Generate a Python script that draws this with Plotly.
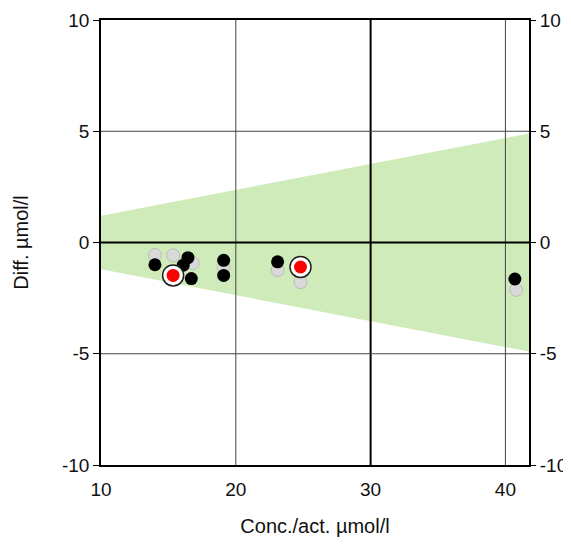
import plotly.graph_objects as go

# ---- data ----
band_x = [10, 41.75]
band_upper = [1.2, 4.9]
band_lower = [-1.2, -4.9]

gray_x = [14.0, 15.35, 16.8, 19.1, 23.1, 24.8, 40.8]
gray_y = [-0.56, -0.58, -0.93, -1.1, -1.24, -1.78, -2.13]

black_x = [14.0, 16.45, 16.1, 16.7, 19.1, 19.1, 23.1, 40.7]
black_y = [-1.0, -0.68, -1.02, -1.62, -0.8, -1.48, -0.87, -1.64]

red_x = [15.35, 24.8]
red_y = [-1.48, -1.1]

x_ticks = [10, 20, 30, 40]
x_tick_labels = ["10", "20", "30", "40"]
y_ticks = [-10, -5, 0, 5, 10]
y_tick_labels = ["-10", "-5", "0", "5", "10"]
x_range = [10, 41.75]
y_range = [-10, 10]
thin_grid_x = [20, 40]
thick_grid_x = [30]
thin_grid_y = [-5, 5]
thick_grid_y = [0]

FONT = "Liberation Sans, Arial, sans-serif"

fig = go.Figure()

# tolerance band
fig.add_trace(go.Scatter(
    x=band_x + band_x[::-1], y=band_upper + band_lower[::-1],
    fill="toself", fillcolor="#cfebb9", mode="none",
    hoverinfo="skip", showlegend=False))

# grid lines (drawn above band, below markers)
for gx in thin_grid_x:
    fig.add_trace(go.Scatter(x=[gx, gx], y=y_range, mode="lines",
                             line=dict(color="#444444", width=1),
                             hoverinfo="skip", showlegend=False))
for gx in thick_grid_x:
    fig.add_trace(go.Scatter(x=[gx, gx], y=y_range, mode="lines",
                             line=dict(color="#000000", width=2),
                             hoverinfo="skip", showlegend=False))
for gy in thin_grid_y:
    fig.add_trace(go.Scatter(x=x_range, y=[gy, gy], mode="lines",
                             line=dict(color="#444444", width=1),
                             hoverinfo="skip", showlegend=False))
for gy in thick_grid_y:
    fig.add_trace(go.Scatter(x=x_range, y=[gy, gy], mode="lines",
                             line=dict(color="#000000", width=2),
                             hoverinfo="skip", showlegend=False))

# points
fig.add_trace(go.Scatter(x=gray_x, y=gray_y, mode="markers",
                         marker=dict(size=13, color="#d9d9d9",
                                     line=dict(color="#bcbcbc", width=1)),
                         showlegend=False))
fig.add_trace(go.Scatter(x=black_x, y=black_y, mode="markers",
                         marker=dict(size=13, color="#000000",
                                     line=dict(color="#000000", width=0)),
                         showlegend=False))
fig.add_trace(go.Scatter(x=red_x, y=red_y, mode="markers",
                         marker=dict(size=21, color="#ffffff",
                                     line=dict(color="#222222", width=1.5)),
                         showlegend=False))
fig.add_trace(go.Scatter(x=red_x, y=red_y, mode="markers",
                         marker=dict(size=13, color="#ff0000",
                                     line=dict(width=0)),
                         showlegend=False))

# dummy trace for right axis
fig.add_trace(go.Scatter(x=[x_range[0]], y=[y_range[0]], yaxis="y2",
                         mode="markers", marker=dict(opacity=0),
                         hoverinfo="skip", showlegend=False))

fig.update_layout(
    width=563, height=536,
    margin=dict(l=93, r=42, t=12, b=79),
    paper_bgcolor="white", plot_bgcolor="white",
    font=dict(family=FONT, size=19, color="#111111"),
    xaxis=dict(range=x_range, tickvals=x_ticks, ticktext=x_tick_labels,
               showgrid=False, automargin=False,
               zeroline=False, showline=True, linecolor="black",
               linewidth=1.5, mirror=True, ticks="outside", ticklen=6,
               tickcolor="rgba(0,0,0,0)",
               title=dict(text="Conc./act. µmol/l", font=dict(size=20),
                          standoff=20)),
    yaxis=dict(range=y_range, tickvals=y_ticks, ticktext=y_tick_labels,
               showgrid=False, automargin=False,
               zeroline=False, showline=True, linecolor="black",
               linewidth=1.5, mirror=True, ticks="outside", ticklen=6,
               tickcolor="black",
               title=dict(text="Diff. µmol/l", font=dict(size=20),
                          standoff=28)),
    yaxis2=dict(range=y_range, tickvals=y_ticks, ticktext=y_tick_labels,
                overlaying="y", automargin=False,
                side="right", showgrid=False, zeroline=False,
                showline=False, ticks="outside", ticklen=6,
                tickcolor="black"),
)

fig.write_html("out.html")
